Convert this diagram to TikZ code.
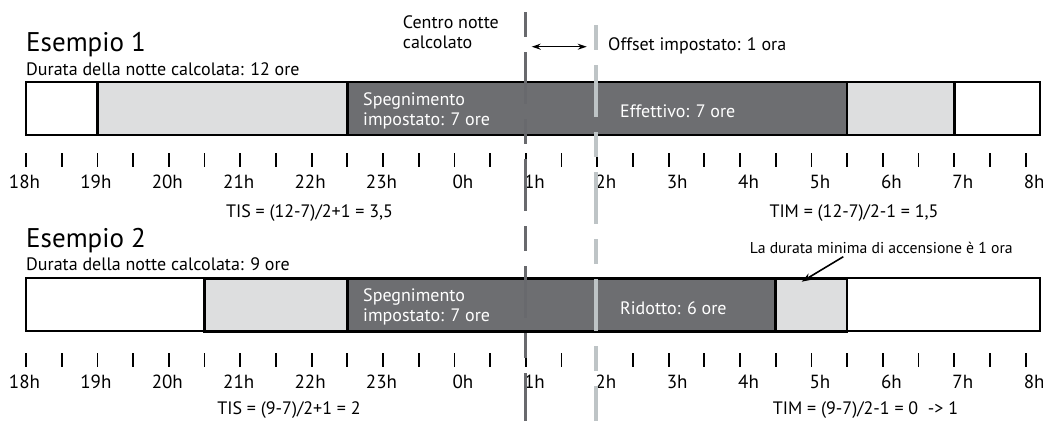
\documentclass[tikz,border=0pt]{standalone}
\usepackage{fontspec}
\setmainfont{PT Sans}
\usetikzlibrary{arrows.meta}

\definecolor{nightdark}{RGB}{109,110,113}
\definecolor{nightlight}{RGB}{221,222,223}
\definecolor{centregray}{RGB}{104,105,109}
\definecolor{offsetgray}{RGB}{190,196,198}

\begin{document}
\begin{tikzpicture}[x=1pt, y=-1pt,
    every node/.style={inner sep=0pt, font=\fontsize{18}{20.5}\selectfont},
    heading/.style={anchor=base west, font=\fontsize{27}{30}\selectfont},
    plain/.style={anchor=base west},
    inbar/.style={anchor=base west, text=white},
    formula/.style={anchor=base},
    hourlbl/.style={anchor=base, font=\fontsize{19}{22}\selectfont},
    daybox/.style={draw=black, line width=1.8pt, fill=white},
    nightbox/.style={draw=black, line width=2.6pt},
    halfhour/.style={line width=1.8pt},
    splitline/.style={line width=#1, dash pattern=on 25pt off 15pt on 52pt off 15pt}]
\useasboundingbox (0,0) rectangle (1043,421);

% Esempio 1
\node[heading] (ex1) at (26,51.7) {Esempio 1};
\node[plain] (dur1) at (26,75) {Durata della notte calcolata: 12 ore};
\filldraw[daybox] (26,82) rectangle (1040,135);
\filldraw[nightbox, fill=nightlight] (97.4,82) rectangle (954.2,135);
\filldraw[nightbox, fill=nightdark] (347.3,82) rectangle (847.1,135);
\node[inbar] (speg1a) at (363,105) {Spegnimento};
\node[inbar] (speg1b) at (363,125.5) {impostato: 7 ore};
\node[inbar] (eff1) at (620,117.6) {Effettivo: 7 ore};
\foreach \i in {0,...,28}
  \draw[halfhour] ({26+35.7*\i},153) -- ++(0,14);
\foreach \h/\t in {0/18h,1/19h,2/20h,3/21h,4/22h,5/23h}
  \node[hourlbl] (hra\h) at ({24.5+71.4*\h},188) {\t};
\foreach \h/\t in {6/0h,7/1h,8/2h,9/3h,10/4h,11/5h,12/6h,13/7h,14/8h}
  \node[hourlbl, anchor=base west] (hra\h) at ({24+71.4*\h},188) {\t};
\node[formula] (tis1) at (309.5,217.5) {TIS = (12-7)/2+1 = 3,5};
\node[formula] (tim1) at (854,217.5) {TIM = (12-7)/2-1 = 1,5};

% Esempio 2
\node[heading] (ex2) at (26,247.5) {Esempio 2};
\node[plain] (dur2) at (26,270.7) {Durata della notte calcolata: 9 ore};
\filldraw[daybox] (26,278.3) rectangle (1040,331.3);
\filldraw[nightbox, fill=nightlight] (204.5,278.3) rectangle (847.1,331.3);
\filldraw[nightbox, fill=nightdark] (347.3,278.3) rectangle (775.7,331.3);
\node[inbar] (speg2a) at (363,301) {Spegnimento};
\node[inbar] (speg2b) at (363,321.5) {impostato: 7 ore};
\node[inbar] (rid2) at (620,314.4) {Ridotto: 6 ore};
\foreach \i in {0,...,28}
  \draw[halfhour] ({26+35.7*\i},353) -- ++(0,14);
\foreach \h/\t in {0/18h,1/19h,2/20h,3/21h,4/22h,5/23h}
  \node[hourlbl] (hrb\h) at ({24.5+71.4*\h},388) {\t};
\foreach \h/\t in {6/0h,7/1h,8/2h,9/3h,10/4h,11/5h,12/6h,13/7h,14/8h}
  \node[hourlbl, anchor=base west] (hrb\h) at ({24+71.4*\h},388) {\t};
\node[formula] (tis2) at (289,414) {TIS = (9-7)/2+1 = 2};
\node[formula] (tim2) at (865.5,414) {TIM = (9-7)/2-1 = 0 \ -> 1};
\node[formula, font=\fontsize{15.7}{18}\selectfont] (minon) at (881.3,253.3)
  {La durata minima di accensione è 1 ora};
\coordinate (minbox) at (801.7,281.7);
\draw[line width=1.6pt, -{Stealth[length=10pt,width=7pt]}]
  ([xshift=-38pt,yshift=-3pt]minon.south) -- (minbox);

% centro notte e offset
\draw[splitline=3pt, centregray] (525,12) -- (525,421);
\draw[splitline=4.5pt, offsetgray] (596,25) -- (596,421);
\node[plain] (centro) at (402.7,28.3) {Centro notte};
\node[plain] (calc) at (402.7,48.3) {calcolato};
\node[plain] (offs) at (608,50.7) {Offset impostato: 1 ora};
\coordinate (cl) at (525,46.7);
\coordinate (ol) at (596,46.7);
\draw[line width=1.5pt, {Stealth[length=9pt,width=6pt]}-{Stealth[length=9pt,width=6pt]}]
  ([xshift=6.7pt]cl) -- ([xshift=-9.3pt]ol);
\end{tikzpicture}
\end{document}
